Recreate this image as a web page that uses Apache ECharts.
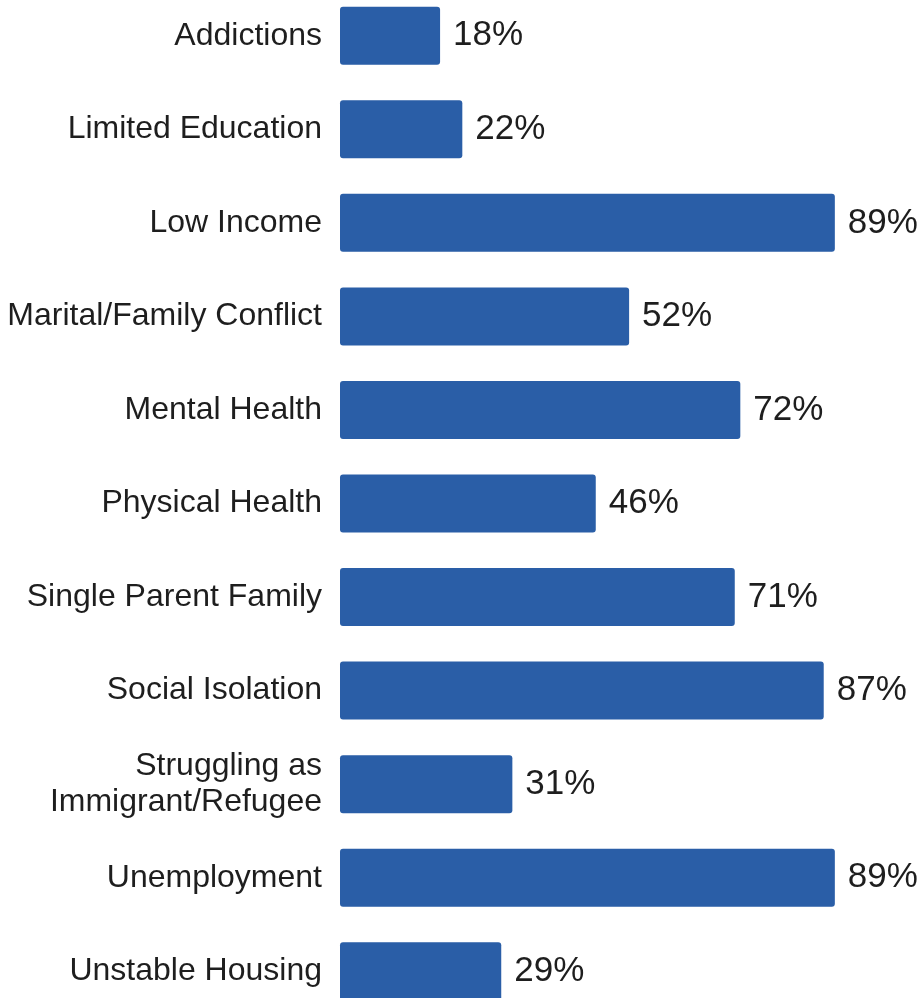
<!DOCTYPE html>
<html><head><meta charset="utf-8">
<script src="https://cdn.jsdelivr.net/npm/echarts@6/dist/echarts.min.js"></script>
<style>html,body{margin:0;padding:0;background:#fff;overflow:hidden}#c{position:absolute;left:0;top:-11.5px;width:924px;height:1029px}</style>
</head><body><div id="c"></div>
<script>
const categories = ["Addictions","Limited Education","Low Income","Marital/Family Conflict","Mental Health","Physical Health","Single Parent Family","Social Isolation","Struggling as\nImmigrant/Refugee","Unemployment","Unstable Housing"];
const values = [18,22,89,52,72,46,71,87,31,89,29];

const chart = echarts.init(document.getElementById('c'));
chart.setOption({
  animation:false,
  grid:{left:340, right:28, top:0, bottom:0, containLabel:false},
  xAxis:{type:'value', min:0, max:100, show:false},
  yAxis:{type:'category', data:categories, inverse:true,
    axisLine:{show:false}, axisTick:{show:false},
    axisLabel:{margin:18, fontFamily:'Liberation Sans', fontSize:32, color:'#1e1e1e', lineHeight:36}},
  series:[{type:'bar', data:values, barCategoryGap:'38%',
    itemStyle:{color:'#2A5EA7', borderRadius:3},
    label:{show:true, position:'right', distance:13, formatter:'{c}%',
      fontFamily:'Liberation Sans', fontSize:35, color:'#1e1e1e'}}]
});
</script></body></html>
